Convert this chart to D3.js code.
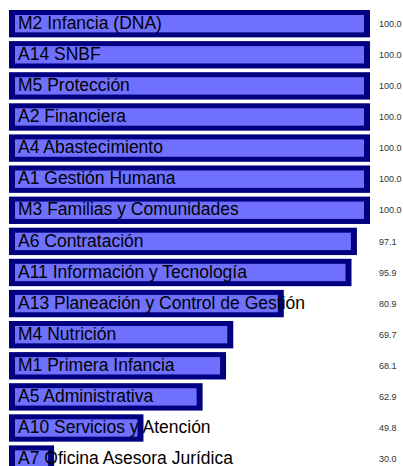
<!DOCTYPE html>
<html>
<head>
<meta charset="utf-8">
<script src="https://cdn.jsdelivr.net/npm/d3@7"></script>
<style>
  html, body { margin: 0; padding: 0; background: #fff; }
  svg { display: block; }
</style>
</head>
<body>
<div id="chart"></div>
<script>
const categories = [
  "M2 Infancia (DNA)",
  "A14 SNBF",
  "M5 Protección",
  "A2 Financiera",
  "A4 Abastecimiento",
  "A1 Gestión Humana",
  "M3 Familias y Comunidades",
  "A6 Contratación",
  "A11 Información y Tecnología",
  "A13 Planeación y Control de Gestión",
  "M4 Nutrición",
  "M1 Primera Infancia",
  "A5 Administrativa",
  "A10 Servicios y Atención",
  "A7 Oficina Asesora Jurídica"
];
const values = [100.0, 100.0, 100.0, 100.0, 100.0, 100.0, 100.0, 97.1, 95.9, 80.9, 69.7, 68.1, 62.9, 49.8, 30.0];
const valueLabels = ["100.0","100.0","100.0","100.0","100.0","100.0","100.0","97.1","95.9","80.9","69.7","68.1","62.9","49.8","30.0"];
const xDomain = [20, 100];

const W = 403, H = 466;
const svg = d3.select("#chart").append("svg").attr("width", W).attr("height", H);

const x = d3.scaleLinear().domain(xDomain).range([9, 370]);
const step = 31.1;
const y = d3.scaleBand().domain(categories)
  .range([10 - step * 0.06, 10 - step * 0.06 + step * categories.length])
  .paddingInner(0.12).paddingOuter(0.06);

const data = categories.map((c, i) => ({ c, v: values[i], lbl: valueLabels[i] }));
const inset = 6;

const g = svg.append("g");
g.selectAll("rect.outer").data(data).join("rect")
  .attr("class", "outer")
  .attr("x", x(xDomain[0]))
  .attr("y", d => y(d.c))
  .attr("width", d => x(d.v) - x(xDomain[0]))
  .attr("height", y.bandwidth())
  .attr("fill", "#000080");

g.selectAll("rect.inner").data(data).join("rect")
  .attr("class", "inner")
  .attr("x", x(xDomain[0]) + inset)
  .attr("y", d => y(d.c) + 5)
  .attr("width", d => Math.max(0, x(d.v) - x(xDomain[0]) - 2 * inset))
  .attr("height", y.bandwidth() - 10)
  .attr("fill", "#7070ff");

g.selectAll("text.cat").data(data).join("text")
  .attr("class", "cat")
  .attr("x", 18)
  .attr("y", d => y(d.c) + y.bandwidth() / 2 - 1)
  .attr("dy", "0.35em")
  .attr("font-family", "Liberation Sans, Arial, sans-serif")
  .attr("font-size", 17.5)
  .attr("fill", "#000")
  .text(d => d.c);

g.selectAll("text.val").data(data).join("text")
  .attr("class", "val")
  .attr("x", 379)
  .attr("y", d => y(d.c) + y.bandwidth() / 2)
  .attr("dy", "0.35em")
  .attr("font-family", "Liberation Sans, Arial, sans-serif")
  .attr("font-size", 9)
  .attr("fill", "#333")
  .text(d => d.lbl);
</script>
</body>
</html>
